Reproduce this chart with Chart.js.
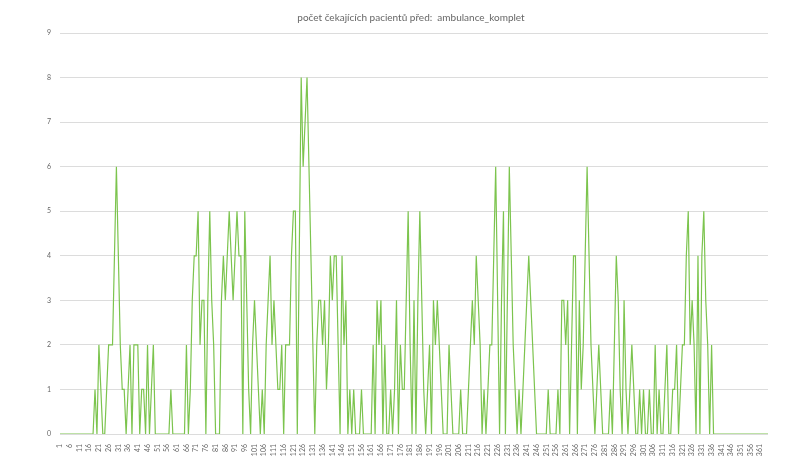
<!DOCTYPE html>
<html>
<head>
<meta charset="utf-8">
<script src="https://cdn.jsdelivr.net/npm/chart.js@4"></script>
<style>
  html, body { margin: 0; padding: 0; background: #fff; }
  #wrap { width: 800px; height: 463px; }
</style>
</head>
<body>
<div id="wrap"><canvas id="c" width="800" height="463"></canvas></div>
<script>
const chartTitle = 'počet čekajících pacientů před:  ambulance_komplet';
const categories = Array.from({ length: 365 }, (_, i) => String(i + 1));
const yTickValues = [0, 1, 2, 3, 4, 5, 6, 7, 8, 9];
const waitingPatients = [
  0,0,0,0,0,0,0,0,0,0,0,0,0,0,0,0,0,0,
  1,0,2,1,0,0,1,2,2,2,4,6,4,2,1,1,0,1,2,0,2,2,2,0,1,1,0,2,0,1,2,0,
  0,0,0,0,0,0,0,
  1,
  0,0,0,0,0,0,0,
  2,0,1,3,4,4,5,2,3,3,0,3,5,3,2,0,
  0,0,3,4,3,4,5,4,3,4,5,4,4,0,5,3,1,0,
  2,3,2,1,0,1,0,2,3,4,2,3,2,1,1,2,0,2,2,2,4,5,5,0,4,8,6,7,8,6,4,2,0,
  2,3,3,2,3,1,2,4,3,4,4,2,0,4,2,3,0,1,0,1,0,0,0,1,0,0,0,0,
  0,2,0,3,2,3,0,2,0,0,1,0,1,3,0,2,1,1,3,5,2,0,3,0,3,5,3,1,0,1,2,0,3,2,3,2,1,0,0,0,
  2,1,0,0,0,0,1,0,0,0,1,2,3,2,4,3,2,0,1,0,1,2,2,4,6,3,0,3,5,0,3,6,4,2,1,0,1,0,1,2,3,4,3,2,1,0,0,0,0,0,
  0,1,0,0,0,0,1,0,3,3,2,3,0,2,4,4,0,3,1,2,4,6,4,2,1,0,1,2,1,0,0,0,0,1,0,2,4,3,1,0,3,1,0,1,2,1,0,0,1,0,
  1,0,0,1,0,0,2,0,1,0,0,1,2,0,0,1,1,2,0,1,2,2,4,5,2,3,2,0,4,0,4,5,3,2,0,2,0,
  0,0,0,0,0,0,0,0,0,0,0,0,0,0,0,0,0,0,0,0,0,0,0,0,0,0,0,0
];

new Chart(document.getElementById('c'), {
  type: 'line',
  data: {
    labels: categories,
    datasets: [{
      data: waitingPatients,
      borderColor: '#7cc44e',
      borderWidth: 1.2,
      pointRadius: 0,
      tension: 0,
      fill: false
    }]
  },
  options: {
    responsive: false,
    animation: false,
    layout: { padding: { left: 32, right: 10, top: 0, bottom: 0 } },
    plugins: {
      legend: { display: false },
      tooltip: { enabled: false },
      title: {
        display: true,
        text: chartTitle,
        color: '#666',
        font: { family: 'Lato', size: 10, weight: 'normal' },
        padding: { top: 12, bottom: 9 }
      }
    },
    scales: {
      x: {
        grid: { display: false },
        border: { display: false },
        ticks: {
          autoSkip: false,
          maxRotation: 90,
          minRotation: 90,
          color: '#666',
          font: { family: 'Lato', size: 7 },
          padding: 2,
          callback: (v, i) => (i % 5 === 0 ? categories[i] : '')
        },
        afterFit: (s) => { s.height = 29; }
      },
      y: {
        min: 0,
        max: 9,
        afterBuildTicks: (s) => { s.ticks = yTickValues.map(v => ({ value: v })); },
        grid: { color: '#dcdcdc', drawTicks: false },
        border: { display: false },
        ticks: {
          color: '#666',
          font: { family: 'Lato', size: 7 },
          padding: 9
        },
        afterFit: (s) => { s.width = 28; }
      },
      yRight: {
        position: 'right',
        min: 0,
        max: 9,
        grid: { display: false, drawTicks: false },
        border: { display: false },
        ticks: { display: false },
        afterFit: (s) => { s.width = 22; }
      }
    }
  }
});
</script>
</body>
</html>
